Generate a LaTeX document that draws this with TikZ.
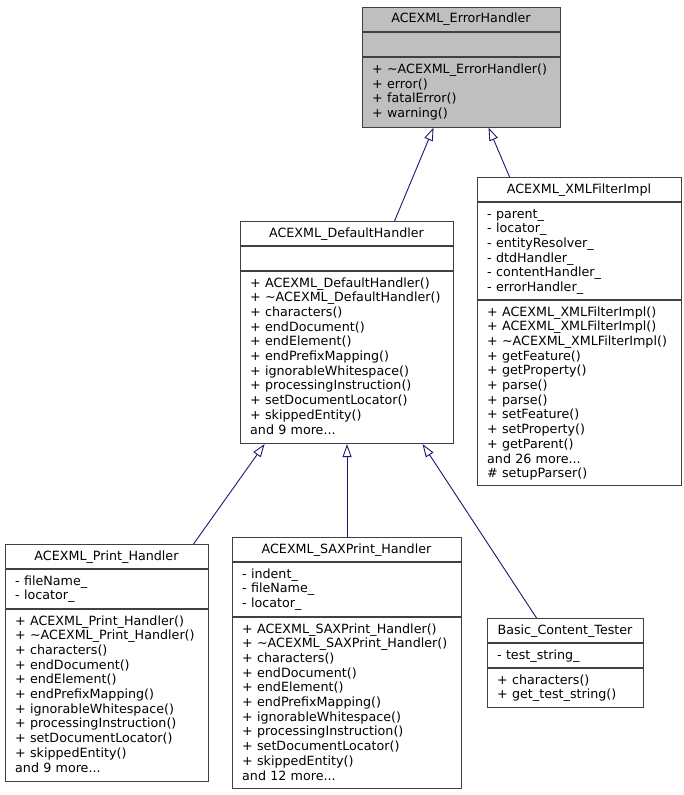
\documentclass[tikz,border=0pt]{standalone}
\usepackage{fontspec}
\setmainfont{DejaVu Sans}
\usetikzlibrary{arrows.meta}
\definecolor{edgeblue}{HTML}{191970}

\begin{document}
\begin{tikzpicture}[x=1pt, y=-1pt,
  classbox/.style={draw=black!75, line width=1.1pt, inner sep=0pt, anchor=north west},
  sepline/.style={draw=black!75, line width=1.1pt},
  title/.style={anchor=base, inner sep=0pt, font=\fontsize{12.7}{14.7}\selectfont},
  members/.style={anchor=base west, inner sep=0pt, text width=225pt, align=left, font=\fontsize{12.7}{14.7}\selectfont},
  inherit/.style={draw=edgeblue, line width=0.9pt, -{Triangle[length=13pt, width=9pt, fill=white]}}]
\useasboundingbox (0,0) rectangle (683,795);

% ACEXML_ErrorHandler
\node[classbox, fill=black!25, minimum width=198pt, minimum height=119.5pt] (err) at (362,7) {};
\draw[sepline] (362,32) -- (560,32);
\draw[sepline] (362,57) -- (560,57);
\node[title] (errT) at (461,22.7) {ACEXML\_ErrorHandler};
\node[members] (errM) at (372,73.3) {+ \textasciitilde ACEXML\_ErrorHandler()\\+ error()\\+ fatalError()\\+ warning()};

% ACEXML_DefaultHandler
\node[classbox, fill=white, minimum width=213pt, minimum height=222pt] (dflt) at (240,221) {};
\draw[sepline] (240,246) -- (453,246);
\draw[sepline] (240,271) -- (453,271);
\node[title] (dfltT) at (346.5,237.3) {ACEXML\_DefaultHandler};
\node[members] (dfltM) at (250,287) {+ ACEXML\_DefaultHandler()\\+ \textasciitilde ACEXML\_DefaultHandler()\\+ characters()\\+ endDocument()\\+ endElement()\\+ endPrefixMapping()\\+ ignorableWhitespace()\\+ processingInstruction()\\+ setDocumentLocator()\\+ skippedEntity()\\and 9 more...};

% ACEXML_XMLFilterImpl
\node[classbox, fill=white, minimum width=204pt, minimum height=308pt] (filt) at (477,177) {};
\draw[sepline] (477,202) -- (681,202);
\draw[sepline] (477,300) -- (681,300);
\node[title] (filtT) at (579,193) {ACEXML\_XMLFilterImpl};
\node[members] (filtA) at (487,218) {- parent\_\\- locator\_\\- entityResolver\_\\- dtdHandler\_\\- contentHandler\_\\- errorHandler\_};
\node[members] (filtM) at (487,316) {+ ACEXML\_XMLFilterImpl()\\+ ACEXML\_XMLFilterImpl()\\+ \textasciitilde ACEXML\_XMLFilterImpl()\\+ getFeature()\\+ getProperty()\\+ parse()\\+ parse()\\+ setFeature()\\+ setProperty()\\+ getParent()\\and 26 more...\\\# setupParser()};

% ACEXML_Print_Handler
\node[classbox, fill=white, minimum width=203pt, minimum height=237pt] (prt) at (5,544) {};
\draw[sepline] (5,569) -- (208,569);
\draw[sepline] (5,609) -- (208,609);
\node[title] (prtT) at (106.5,560) {ACEXML\_Print\_Handler};
\node[members] (prtA) at (15,585) {- fileName\_\\- locator\_};
\node[members] (prtM) at (15,625) {+ ACEXML\_Print\_Handler()\\+ \textasciitilde ACEXML\_Print\_Handler()\\+ characters()\\+ endDocument()\\+ endElement()\\+ endPrefixMapping()\\+ ignorableWhitespace()\\+ processingInstruction()\\+ setDocumentLocator()\\+ skippedEntity()\\and 9 more...};

% ACEXML_SAXPrint_Handler
\node[classbox, fill=white, minimum width=229pt, minimum height=251pt] (sax) at (232,537) {};
\draw[sepline] (232,562) -- (461,562);
\draw[sepline] (232,617) -- (461,617);
\node[title] (saxT) at (346.5,553) {ACEXML\_SAXPrint\_Handler};
\node[members] (saxA) at (242,578) {- indent\_\\- fileName\_\\- locator\_};
\node[members] (saxM) at (242,633) {+ ACEXML\_SAXPrint\_Handler()\\+ \textasciitilde ACEXML\_SAXPrint\_Handler()\\+ characters()\\+ endDocument()\\+ endElement()\\+ endPrefixMapping()\\+ ignorableWhitespace()\\+ processingInstruction()\\+ setDocumentLocator()\\+ skippedEntity()\\and 12 more...};

% Basic_Content_Tester
\node[classbox, fill=white, minimum width=156pt, minimum height=89pt] (tst) at (487,618) {};
\draw[sepline] (487,643) -- (643,643);
\draw[sepline] (487,668) -- (643,668);
\node[title] (tstT) at (565,634) {Basic\_Content\_Tester};
\node[members] (tstA) at (497,659) {- test\_string\_};
\node[members] (tstM) at (497,684) {+ characters()\\+ get\_test\_string()};

% inheritance
\draw[inherit] ([xshift=47.5pt]dflt.north) -- ([xshift=-28pt]err.south);
\draw[inherit] ([xshift=-70pt]filt.north) -- ([xshift=27pt]err.south);
\draw[inherit] ([xshift=86.5pt]prt.north) -- ([xshift=-82.5pt]dflt.south);
\draw[inherit] (sax.north) -- (dflt.south);
\draw[inherit] ([xshift=-29pt]tst.north) -- ([xshift=75.5pt]dflt.south);
\end{tikzpicture}
\end{document}
